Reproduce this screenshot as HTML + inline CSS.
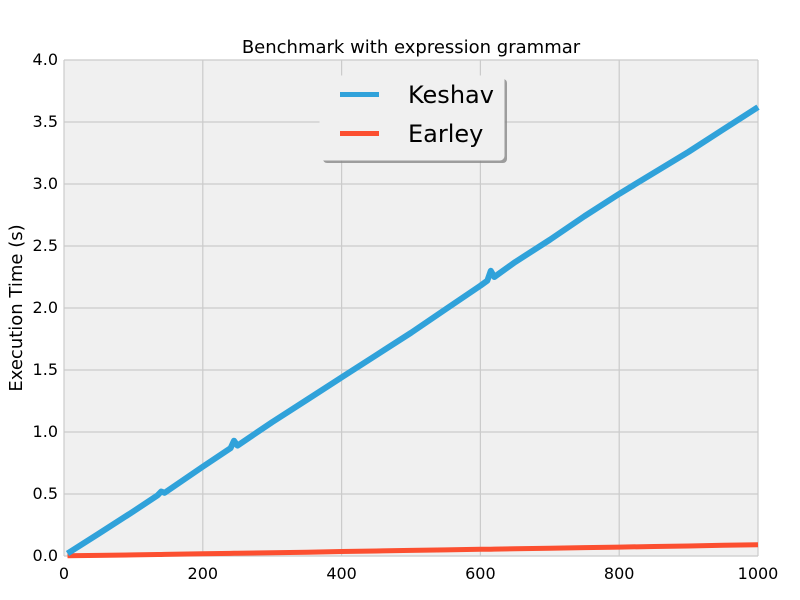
<!DOCTYPE html>
<html><head><meta charset="utf-8"><style>
body{margin:0;background:#fff;}
svg{display:block;font-family:"DejaVu Sans","Liberation Sans",sans-serif;}
</style></head><body>
<svg id="chart" width="800" height="600">
<rect x="0" y="0" width="800" height="600" fill="#ffffff"/>
<rect x="64" y="60" width="694" height="496" fill="#f0f0f0"/>
<g id="grid"></g>
<g id="ticks"></g>
<g id="series"></g>
<text x="411" y="53" font-size="18" text-anchor="middle" fill="#000">Benchmark with expression grammar</text>
<text x="22" y="308" font-size="18" text-anchor="middle" transform="rotate(-90 22 308)" fill="#000">Execution Time (s)</text>
<g>
<rect x="323" y="79" width="184" height="84" rx="4" fill="#888" opacity="0.8"/>
<rect x="320" y="76" width="184" height="84" rx="4" fill="#f0f0f0" stroke="#f0f0f0"/>
<line x1="340" y1="94.5" x2="379" y2="94.5" stroke="#30a2da" stroke-width="5"/>
<text x="408" y="103" font-size="24" fill="#000">Keshav</text>
<line x1="340" y1="133.5" x2="379" y2="133.5" stroke="#fc4f30" stroke-width="5"/>
<text x="408" y="142" font-size="24" fill="#000">Earley</text>
</g>
</svg>
<script>
const xTicks=[0,200,400,600,800,1000];
const yTicks=[0.0,0.5,1.0,1.5,2.0,2.5,3.0,3.5,4.0];
const xValues=[5,50,100,135,140,145,200,240,245,250,300,350,400,450,500,550,600,610,615,620,650,700,750,800,850,900,950,1000];
const keshavValues=[0.02,0.18,0.36,0.49,0.52,0.51,0.72,0.87,0.93,0.89,1.08,1.26,1.44,1.62,1.80,1.99,2.18,2.22,2.30,2.25,2.37,2.55,2.74,2.92,3.09,3.26,3.44,3.62];
const earleyValues=[0.002,0.005,0.009,0.012,0.012,0.013,0.018,0.021,0.022,0.022,0.027,0.031,0.036,0.040,0.045,0.049,0.054,0.055,0.055,0.056,0.058,0.063,0.068,0.072,0.077,0.081,0.086,0.090];
const X=v=>64+v/1000*694;
const Y=v=>556-v/4*496;
const NS="http://www.w3.org/2000/svg";
const grid=document.getElementById('grid'),ticks=document.getElementById('ticks'),series=document.getElementById('series');
function mk(tag,attrs,parent){const e=document.createElementNS(NS,tag);for(const k in attrs)e.setAttribute(k,attrs[k]);parent.appendChild(e);return e;}
xTicks.forEach(t=>{
 const g=mk('line',{x1:X(t),x2:X(t),y1:60,y2:556,stroke:'#cbcbcb','stroke-width':1.2},grid);
 
 
 const l=mk('text',{x:X(t),y:579,'font-size':16,'text-anchor':'middle',fill:'#000'},ticks);
 l.textContent=t;
 
 
});
yTicks.forEach(t=>{
 const g=mk('line',{x1:64,x2:758,y1:Y(t),y2:Y(t),stroke:'#cbcbcb','stroke-width':1.2},grid);
 
 
 const l=mk('text',{x:58,y:Y(t)+5,'font-size':16,'text-anchor':'end',fill:'#000'},ticks);
 l.textContent=t.toFixed(1);
 
 
});
function line(vals,color,name,w){
 const d=xValues.map((x,i)=>(i?'L':'M')+X(x).toFixed(1)+','+Y(vals[i]).toFixed(1)).join(' ');
 const p=mk('path',{d:d,fill:'none',stroke:color,'stroke-width':w,'stroke-linejoin':'round'},series);
 
 
}
line(earleyValues,'#fc4f30','earley-line',5);
line(keshavValues,'#30a2da','keshav-line',6);
</script>
</body></html>
